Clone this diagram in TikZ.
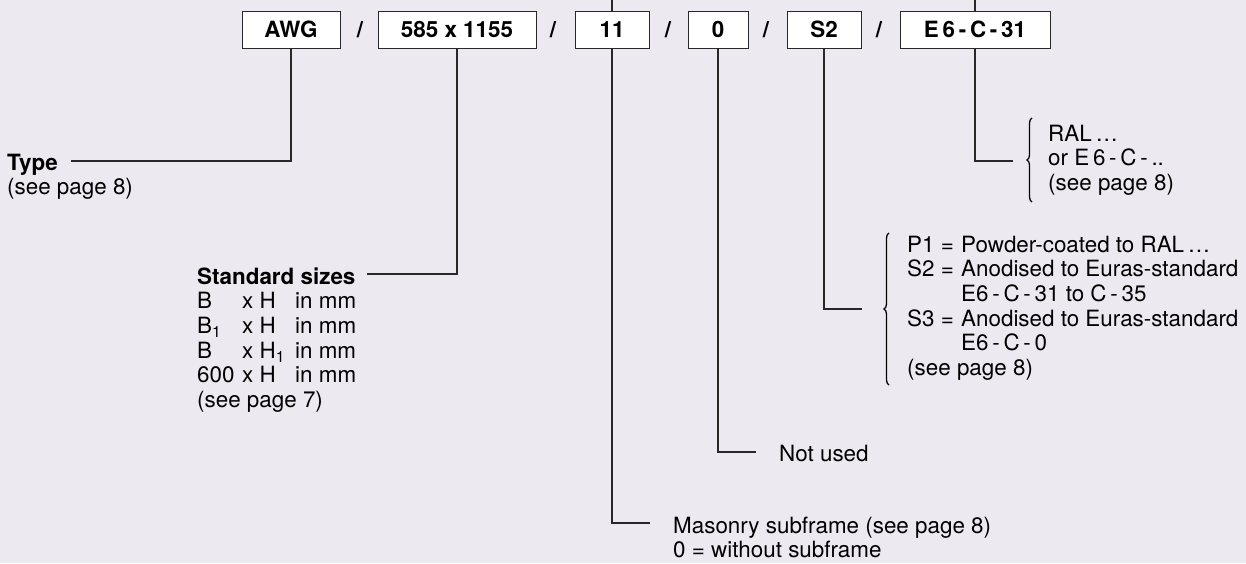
\documentclass[tikz,border=0pt]{standalone}
\usepackage{fontspec}
\setmainfont{TeX Gyre Heros}
\usetikzlibrary{decorations.pathreplacing}
\definecolor{bgc}{RGB}{237,233,240}
\definecolor{ink}{RGB}{40,40,40}
\begin{document}
\begin{tikzpicture}[x=1pt,y=-1pt,
  lbl/.style={inner sep=0pt,anchor=base west,font=\fontsize{22.4}{24.7}\selectfont,text=black},
  codebox/.style={draw=ink,fill=white,line width=1pt,minimum height=37pt,inner sep=0pt,font=\bfseries\fontsize{22.4}{24}\selectfont},
  sep/.style={inner sep=0pt,font=\bfseries\fontsize{22.4}{24}\selectfont},
  conn/.style={draw=ink,line width=1.1pt},
  bracestyle/.style={draw=black,line width=1.3pt,decorate,decoration={brace,amplitude=5pt}}]
\fill[bgc] (0,0) rectangle (1246,563);
\useasboundingbox (0,0) rectangle (1246,563);
\coordinate (topL) at (0,0);
% boxes
\node[codebox,minimum width=98pt] (awg) at (291,29.5) {AWG};
\node[codebox,minimum width=158pt] (size) at (457,29.5) {585 x 1155};
\node[codebox,minimum width=74pt] (b11) at (612,29.5) {11};
\node[codebox,minimum width=60pt] (b0) at (718,29.5) {0};
\node[codebox,minimum width=74pt] (bs2) at (824,29.5) {S2};
\node[codebox,minimum width=150pt] (be6) at (975,29.5) {E\,6\,-\,C\,-\,31};
\node[sep] (s1) at (360,29.5) {/};
\node[sep] (s2) at (553,29.5) {/};
\node[sep] (s3) at (668,29.5) {/};
\node[sep] (s4) at (766,29.5) {/};
\node[sep] (s5) at (879,29.5) {/};
% lines up to top edge
\draw[conn] (b11.north) -- (b11.north |- topL);
\draw[conn] (be6.north) -- (be6.north |- topL);
% labels
\node[lbl] (type) at (7,170) {\begin{tabular}[t]{@{}l@{}}\textbf{Type}\\(see page 8)\end{tabular}};
\node[lbl] (std) at (197,284) {\begin{tabular}[t]{@{}l@{}}\textbf{Standard sizes}\\
\makebox[45pt][l]{B}\makebox[53pt][l]{x H}in mm\\
\makebox[45pt][l]{B\textsubscript{1}}\makebox[53pt][l]{x H}in mm\\
\makebox[45pt][l]{B}\makebox[53pt][l]{x H\textsubscript{1}}in mm\\
\makebox[45pt][l]{600}\makebox[53pt][l]{x H}in mm\\
(see page 7)\end{tabular}};
\node[lbl] (col) at (1048,141) {\begin{tabular}[t]{@{}l@{}}RAL\,\dots\\or E\,6\,-\,C\,-\,..\\(see page 8)\end{tabular}};
\node[lbl] (fin) at (907,252) {\begin{tabular}[t]{@{}l@{}}\makebox[54pt][l]{P1 =}Powder-coated to RAL\,\dots\\
\makebox[54pt][l]{S2 =}Anodised to Euras-standard\\
\makebox[54pt][l]{}E6\,-\,C\,-\,31 to C\,-\,35\\
\makebox[54pt][l]{S3 =}Anodised to Euras-standard\\
\makebox[54pt][l]{}E6\,-\,C\,-\,0\\
(see page 8)\end{tabular}};
\node[lbl] (nu) at (779,461) {Not used};
\node[lbl] (mas) at (673,533) {\begin{tabular}[t]{@{}l@{}}Masonry subframe (see page 8)\\0 = without subframe\end{tabular}};
% connector ends
\coordinate (typeEnd) at (71,161);
\coordinate (stdEnd) at (367,274);
\coordinate (e6End) at (1013,161);
\coordinate (s2End) at (862,309);
\coordinate (b0End) at (756,452);
\coordinate (b11End) at (650,523);
\draw[conn] (awg.south) |- (typeEnd);
\draw[conn] (size.south) |- (stdEnd);
\draw[conn] (be6.south) |- (e6End);
\draw[conn] (bs2.south) |- (s2End);
\draw[conn] (b0.south) |- (b0End);
\draw[conn] (b11.south) |- (b11End);
% braces
\coordinate (e6BraceBot) at (1032,202);
\coordinate (e6BraceTop) at (1032,118);
\coordinate (s2BraceBot) at (889,385);
\coordinate (s2BraceTop) at (889,233);
\draw[bracestyle] (e6BraceBot) -- (e6BraceTop);
\draw[bracestyle] (s2BraceBot) -- (s2BraceTop);
\end{tikzpicture}
\end{document}
